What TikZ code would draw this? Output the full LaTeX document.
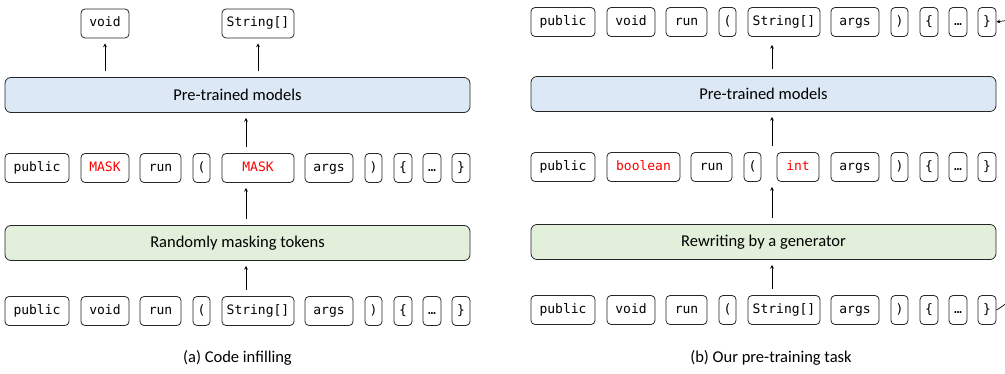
\documentclass[tikz,border=0pt]{standalone}
\usepackage{fontspec}
\setmainfont{Carlito}
\setmonofont{DejaVu Sans Mono}
\usetikzlibrary{arrows}
\usetikzlibrary{positioning}
\definecolor{modelblue}{HTML}{DCE8F5}
\definecolor{rewritegreen}{HTML}{E2EFDA}
\tikzset{token/.style={draw=black!85,line width=0.8pt,rounded corners=4pt,inner sep=0pt,minimum height=29pt,text height=9.5pt,text depth=2.5pt,font=\fontsize{13}{15}\selectfont\ttfamily}}
\tikzset{stage/.style={draw=black!85,line width=0.8pt,rounded corners=6pt,minimum width=465pt,minimum height=35pt,font=\fontsize{16.5}{19}\selectfont}}
\tikzset{caption/.style={font=\fontsize{16.5}{19}\selectfont}}
\tikzset{flow/.style={->,line width=0.7pt,shorten <=6pt,shorten >=5pt}}

\begin{document}
\begin{tikzpicture}[x=1pt, y=-1pt, >=stealth]
\useasboundingbox (0,0) rectangle (1005,374);
\clip (0,0) rectangle (1005,374);

% (a) code infilling
\foreach \xa/\xb/\t [count=\i] in {5/69/public, 81/129/void, 140/181/run, 193/210/(, 222/294/String[], 305/353/args, 365/382/), 394/412/\{, 423/441/…, 452/470/\}}
\node [token, minimum width=\xb-\xa] (ain-\i) at ({(\xa+\xb)/2},311) {\t};

\foreach \xa/\xb/\t [count=\i] in {5/69/public, 81/129/\textcolor{red}{MASK}, 140/181/run, 193/210/(, 222/294/\textcolor{red}{MASK}, 305/353/args, 365/382/), 394/412/\{, 423/441/…, 452/470/\}}
\node [token, minimum width=\xb-\xa] (amask-\i) at ({(\xa+\xb)/2},168) {\t};

\foreach \xa/\xb/\t [count=\i] in {81/129/void, 222/294/String[]}
\node [token, minimum width=\xb-\xa] (aout-\i) at ({(\xa+\xb)/2},23.5) {\t};

\node [stage, fill=rewritegreen] (agen) at (237.5,243) {Randomly masking tokens};
\node [stage, fill=modelblue] (amodel) at (237.5,95) {Pre-trained models};
\coordinate (aaxis) at (246,0);

\draw [flow] (ain-1.north -| aaxis) -- (agen.south -| aaxis);
\draw [flow] (agen.north -| aaxis) -- (amask-1.south -| aaxis);
\draw [flow] (amask-1.north -| aaxis) -- (amodel.south -| aaxis);
\foreach \i in {1,2}
\draw [flow] (amodel.north -| aout-\i) -- (aout-\i);

\node [caption] (acap) at (237.5,358) {(a) Code infilling};

% (b) our pre-training task
\foreach \xa/\xb/\t [count=\i] in {5/69/public, 81/129/void, 140/181/run, 193/210/(, 222/294/String[], 305/353/args, 365/382/), 394/412/\{, 423/441/…, 452/470/\}}
{
\node [token, minimum width=\xb-\xa] (bin-\i) at ({(\xa+\xb)/2+526},310) {\t};
\node [token, minimum width=\xb-\xa] (bout-\i) at ({(\xa+\xb)/2+526},22) {\t};
}

\foreach \xa/\xb/\t [count=\i] in {531/595/public, 607/680/\textcolor{red}{boolean}, 691/732/run, 744/761/(, 777/819/\textcolor{red}{int}, 831/879/args, 891/908/), 920/938/\{, 949/967/…, 978/996/\}}
\node [token, minimum width=\xb-\xa] (bgen-\i) at ({(\xa+\xb)/2},167) {\t};

\node [stage, fill=rewritegreen] (bgen) at (763.5,242) {Rewriting by a generator};
\node [stage, fill=modelblue] (bmodel) at (763.5,94) {Pre-trained models};
\coordinate (baxis) at (772,0);

\draw [flow] (bin-1.north -| baxis) -- (bgen.south -| baxis);
\draw [flow] (bgen.north -| baxis) -- (bgen-1.south -| baxis);
\draw [flow] (bgen-1.north -| baxis) -- (bmodel.south -| baxis);
\draw [flow, shorten <=7pt, shorten >=8pt] (bmodel.north -| baxis) -- (bout-1.south -| baxis);

% feedback loop, runs off the page
\draw [->, line width=0.7pt] (bin-10.east) to[out=30, in=10] (bout-10.east);

\node [caption] (bcap) at (771,358) {(b) Our pre-training task};
\end{tikzpicture}
\end{document}
